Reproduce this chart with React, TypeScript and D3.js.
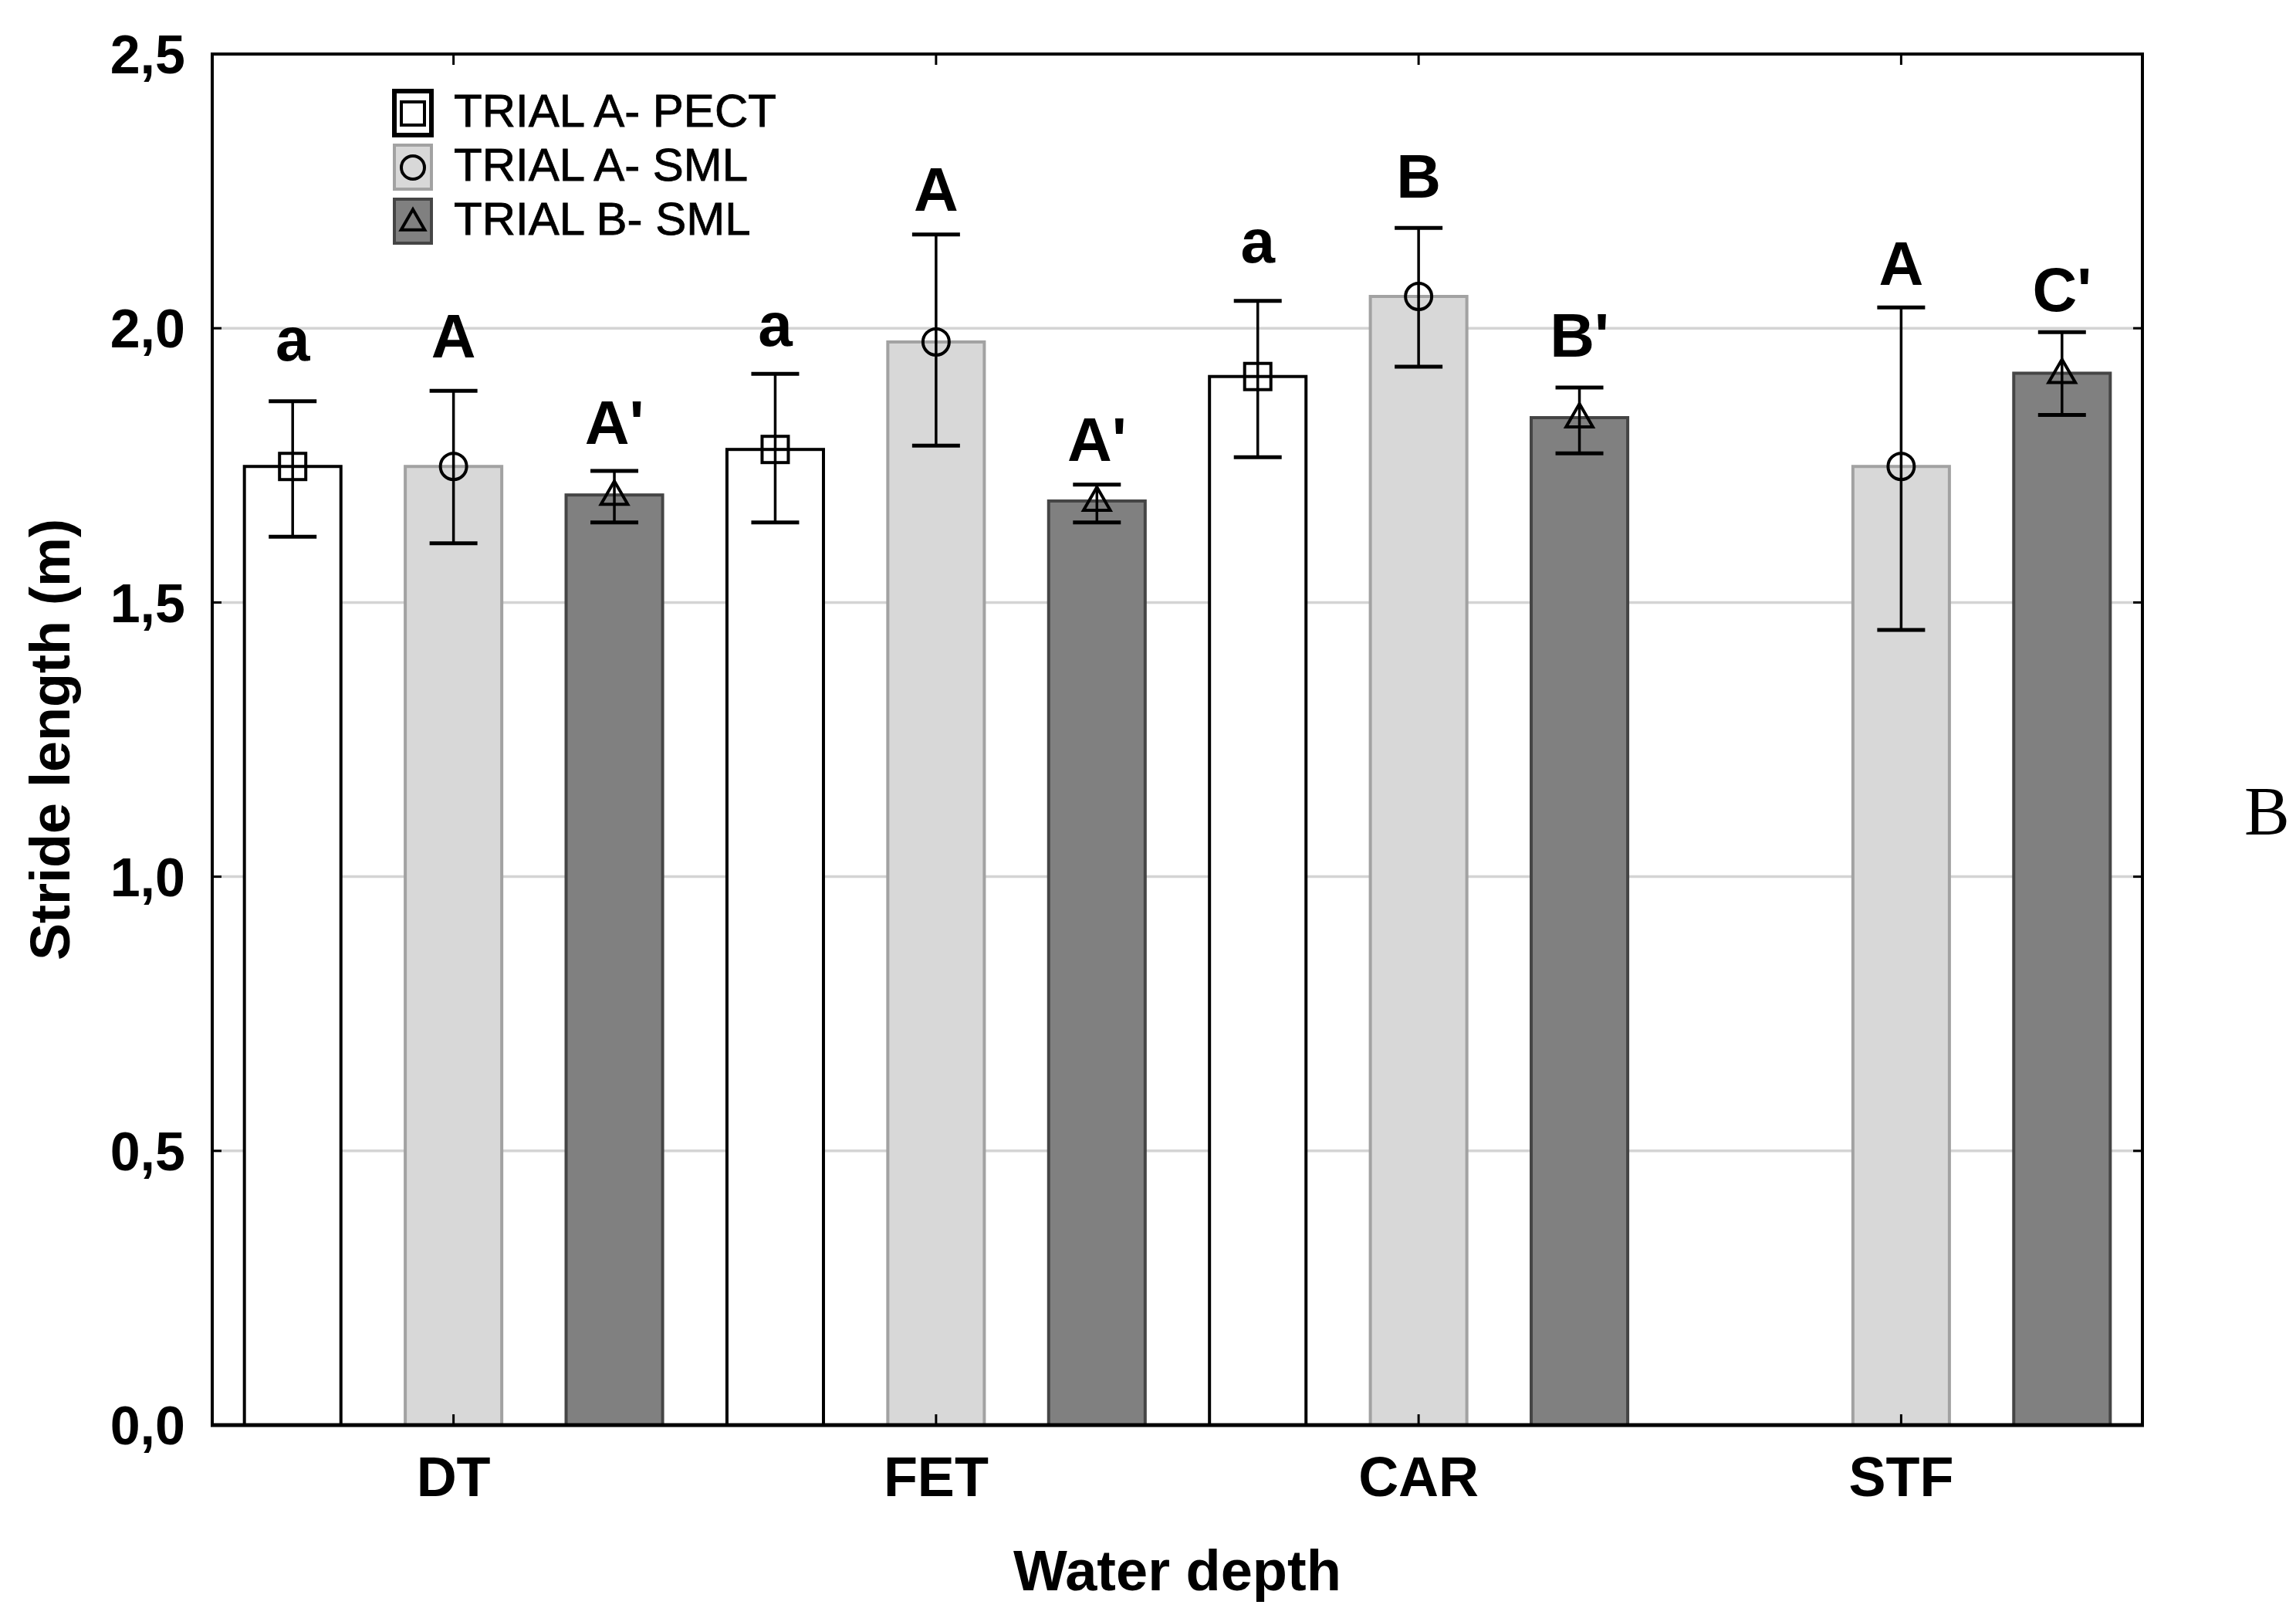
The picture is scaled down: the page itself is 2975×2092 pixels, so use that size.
import * as d3 from 'd3'

// Stride length per water depth, three trial series
const categories = ['DT', 'FET', 'CAR', 'STF']
const seriesNames = ['TRIAL A- PECT', 'TRIAL A- SML', 'TRIAL B- SML']

const pectMean = [1.748, 1.779, 1.912, null]
const pectLow = [1.62, 1.646, 1.765, null]
const pectHigh = [1.867, 1.917, 2.05, null]

const smlAMean = [1.748, 1.975, 2.058, 1.748]
const smlALow = [1.608, 1.786, 1.93, 1.45]
const smlAHigh = [1.886, 2.171, 2.183, 2.038]

const smlBMean = [1.696, 1.685, 1.837, 1.918]
const smlBLow = [1.646, 1.646, 1.772, 1.842]
const smlBHigh = [1.74, 1.715, 1.892, 1.993]

// significance letters and the value their baseline sits at
const pectLetters = ['a', 'a', 'a', null]
const smlALetters = ['A', 'A', 'B', 'A']
const smlBLetters = ["A'", "A'", "B'", "C'"]
const pectLetterAt = [1.941, 1.968, 2.12, null]
const smlALetterAt = [1.947, 2.214, 2.238, 2.079]
const smlBLetterAt = [1.789, 1.758, 1.948, 2.031]

const yTicks = [0, 0.5, 1.0, 1.5, 2.0, 2.5]

const W = 2975
const H = 2092
const margin = { top: 70, right: 199, bottom: 246, left: 275 }
const FONT = '"Liberation Sans", Arial, sans-serif'

const styles = [
  { fill: '#ffffff', stroke: '#000000', strokeWidth: 4, marker: 'square' },
  { fill: '#d8d8d8', stroke: '#a2a2a2', strokeWidth: 4, marker: 'circle' },
  { fill: '#808080', stroke: '#454545', strokeWidth: 4, marker: 'triangle' },
]

const seriesData = [
  { mean: pectMean, low: pectLow, high: pectHigh, letters: pectLetters, letterAt: pectLetterAt },
  { mean: smlAMean, low: smlALow, high: smlAHigh, letters: smlALetters, letterAt: smlALetterAt },
  { mean: smlBMean, low: smlBLow, high: smlBHigh, letters: smlBLetters, letterAt: smlBLetterAt },
]

function Marker({ kind, cx, cy, size }: { kind: string; cx: number; cy: number; size: number }) {
  const h = size / 2
  if (kind === 'square') {
    return <rect x={cx - h} y={cy - h} width={size} height={size} fill="none" stroke="#000" strokeWidth={4} />
  }
  if (kind === 'circle') {
    return <circle cx={cx} cy={cy} r={h} fill="none" stroke="#000" strokeWidth={4} />
  }
  const tri = d3.symbol().type(d3.symbolTriangle).size(size * size * 0.45)()
  return <path d={tri ?? ''} transform={`translate(${cx},${cy + 2})`} fill="none" stroke="#000" strokeWidth={4} />
}

export default function App() {
  const innerW = W - margin.left - margin.right
  const innerH = H - margin.top - margin.bottom
  const x0 = d3.scaleBand<string>().domain(categories).range([0, innerW]).padding(0)
  const x1 = d3.scaleBand<string>().domain(seriesNames).range([0, x0.bandwidth()]).paddingInner(0.4).paddingOuter(0.2)
  const y = d3.scaleLinear().domain([0, 2.5]).range([innerH, 0])
  const fmt = (v: number) => d3.format('.1f')(v).replace('.', ',')
  const bw = x1.bandwidth()
  const capHalf = 31

  return (
    <svg width={W} height={H} style={{ position: 'absolute', left: 0, top: 0, background: '#fff' }} fontFamily={FONT}>
      <g transform={`translate(${margin.left},${margin.top})`}>
        {/* gridlines */}
        {yTicks.filter((t) => t > 0 && t < 2.5).map((t) => (
          <line key={t} x1={0} x2={innerW} y1={y(t)} y2={y(t)} stroke="#d4d4d4" strokeWidth={3.5} />
        ))}

        {/* bars */}
        {seriesData.map((s, si) =>
          categories.map((c, ci) => {
            const m = s.mean[ci]
            if (m == null) return null
            const bx = (x0(c) ?? 0) + (x1(seriesNames[si]) ?? 0)
            return (
              <rect key={`${si}-${ci}`} x={bx} y={y(m)} width={bw} height={innerH - y(m)}
                fill={styles[si].fill} stroke={styles[si].stroke} strokeWidth={styles[si].strokeWidth} />
            )
          })
        )}

        {/* markers, error bars, letters */}
        {seriesData.map((s, si) =>
          categories.map((c, ci) => {
            const m = s.mean[ci]
            const lo = s.low[ci]
            const hi = s.high[ci]
            if (m == null || lo == null || hi == null) return null
            const cx = (x0(c) ?? 0) + (x1(seriesNames[si]) ?? 0) + bw / 2
            const la = s.letterAt[ci]
            return (
              <g key={`e${si}-${ci}`}>
                <Marker kind={styles[si].marker} cx={cx} cy={y(m)} size={34} />
                <line x1={cx} x2={cx} y1={y(hi)} y2={y(lo)} stroke="#000" strokeWidth={3.5} />
                <line x1={cx - capHalf} x2={cx + capHalf} y1={y(hi)} y2={y(hi)} stroke="#000" strokeWidth={5} />
                <line x1={cx - capHalf} x2={cx + capHalf} y1={y(lo)} y2={y(lo)} stroke="#000" strokeWidth={5} />
                {s.letters[ci] && la != null && (
                  <text x={cx} y={y(la)} textAnchor="middle" fontSize={80} fontWeight="bold" fill="#000">
                    {s.letters[ci]}
                  </text>
                )}
              </g>
            )
          })
        )}

        {/* frame */}
        <rect x={0} y={0} width={innerW} height={innerH} fill="none" stroke="#000" strokeWidth={4} />
        <line x1={-2} x2={innerW + 2} y1={innerH} y2={innerH} stroke="#000" strokeWidth={5} />

        {/* y ticks left/right */}
        {yTicks.map((t) => (
          <g key={`yt${t}`}>
            <line x1={0} x2={12} y1={y(t)} y2={y(t)} stroke="#000" strokeWidth={3} />
            <line x1={innerW - 12} x2={innerW} y1={y(t)} y2={y(t)} stroke="#000" strokeWidth={3} />
            <text x={-35} y={y(t)} dy="0.36em" textAnchor="end" fontSize={70} fontWeight="bold" fill="#000">
              {fmt(t)}
            </text>
          </g>
        ))}

        {/* x ticks top/bottom */}
        {categories.map((c) => {
          const cx = (x0(c) ?? 0) + x0.bandwidth() / 2
          return (
            <g key={`xt${c}`}>
              <line x1={cx} x2={cx} y1={0} y2={14} stroke="#000" strokeWidth={3} />
              <line x1={cx} x2={cx} y1={innerH - 14} y2={innerH} stroke="#000" strokeWidth={3} />
              <text x={cx} y={innerH + 92} textAnchor="middle" fontSize={72} fontWeight="bold" fill="#000">
                {c}
              </text>
            </g>
          )
        })}

        {/* axis titles */}
        <text x={innerW / 2} y={innerH + 214} textAnchor="middle" fontSize={74} fontWeight="bold" fill="#000">
          Water depth
        </text>
        <text transform={`translate(${90 - margin.left},${innerH / 2}) rotate(-90)`} textAnchor="middle"
          fontSize={72} fontWeight="bold" fill="#000">
          Stride length (m)
        </text>

        {/* legend */}
        {seriesNames.map((name, i) => {
          const ly = 48 + i * 70
          const lx = 236
          return (
            <g key={name}>
              <rect x={lx} y={ly} width={48} height={57} fill={styles[i].fill} stroke={styles[i].stroke} strokeWidth={i === 0 ? 6 : 4} />
              <Marker kind={styles[i].marker} cx={lx + 24} cy={ly + 29} size={30} />
              <text x={lx + 77} y={ly + 46} fontSize={60} fill="#000" stroke="#000" strokeWidth={0.8}>
                {name}
              </text>
            </g>
          )
        })}
      </g>

      <text x={2908} y={1080} fontFamily='"Liberation Serif", "Times New Roman", serif' fontSize={88} fill="#000">
        B
      </text>
    </svg>
  )
}
